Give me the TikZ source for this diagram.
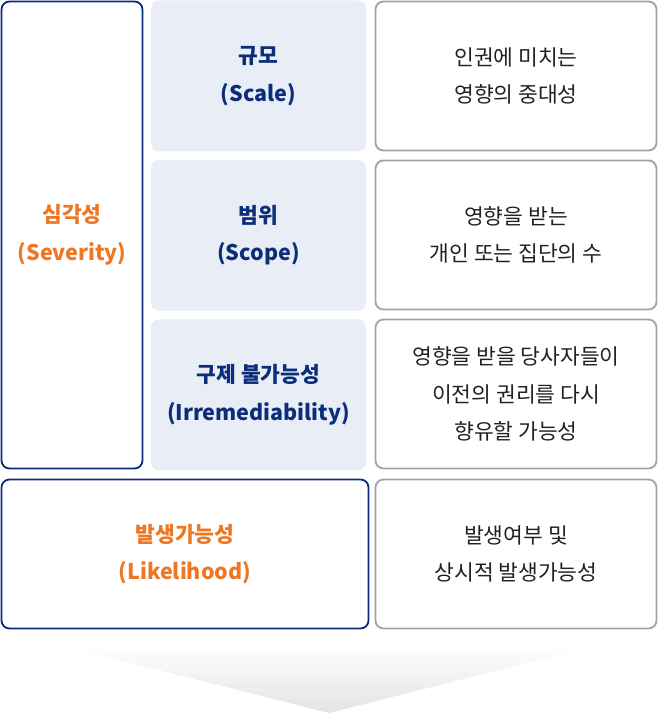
\documentclass[tikz,border=0pt]{standalone}
\usepackage{fontspec}
\setmainfont{Noto Sans CJK KR}
\usetikzlibrary{positioning}
\definecolor{navy}{HTML}{0B2D7A}
\definecolor{accent}{HTML}{EF7622}
\definecolor{cellblue}{HTML}{E8EDF6}
\definecolor{framegray}{HTML}{A3A3A3}
\definecolor{ink}{HTML}{222222}
\tikzset{
    cell/.style={rectangle, rounded corners=8pt, align=center, inner sep=0pt,
        font=\fontsize{21.5}{37.5}\selectfont},
    navybox/.style={cell, draw=navy, line width=1.8pt, fill=white, text=accent,
        font=\fontsize{21.5}{37.5}\selectfont\bfseries},
    bluecell/.style={cell, fill=cellblue, text=navy, minimum width=215pt, minimum height=151pt,
        font=\fontsize{21.5}{37.5}\selectfont\bfseries},
    descbox/.style={cell, draw=framegray, line width=1.8pt, fill=white, text=ink,
        minimum width=281pt, minimum height=149pt}
}

\begin{document}
\begin{tikzpicture}[x=1pt,y=1pt]
    \useasboundingbox (0,0) rectangle (658,715);

    % left column
    \node[navybox, minimum width=141pt, minimum height=467pt] (sev) at (72,480) {심각성\\(Severity)};

    % middle column
    \node[bluecell] (scale) at (258.5,639) {규모\\(Scale)};
    \node[bluecell, below=8pt of scale] (scope) {범위\\(Scope)};
    \node[bluecell, below=8pt of scope] (irr) {구제 불가능성\\(Irremediability)};

    % right column
    \node[descbox] (d1) at (516,639) {인권에 미치는\\영향의 중대성};
    \node[descbox] (d2) at (516,480) {영향을 받는\\개인 또는 집단의 수};
    \node[descbox] (d3) at (516,321) {영향을 받을 당사자들이\\이전의 권리를 다시\\향유할 가능성};

    % likelihood row
    \node[navybox, minimum width=367pt, minimum height=149pt] (like) at (185,161) {발생가능성\\(Likelihood)};
    \node[descbox] (d4) at (516,161) {발생여부 및\\상시적 발생가능성};

    % arrow below
    \shade[top color=white, bottom color=black!11] (60,70) -- (598,70) -- (329,2) -- cycle;
\end{tikzpicture}
\end{document}
